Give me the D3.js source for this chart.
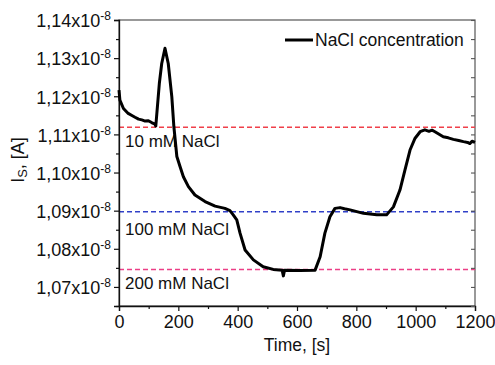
<!DOCTYPE html>
<html>
<head>
<meta charset="utf-8">
<script src="https://cdn.jsdelivr.net/npm/d3@7"></script>
<style>
  html, body { margin: 0; padding: 0; background: #fff; }
  svg { display: block; }
  text { font-family: "Liberation Sans", Arial, sans-serif; fill: #111; }
</style>
</head>
<body>
<div id="chart"></div>
<script>
// Measured sensor current over time while NaCl concentration is stepped
const timeS = [0, 3, 15, 31, 45, 54, 66, 77, 88, 99, 110, 121, 124, 136, 144, 155, 166, 178, 185, 195, 206, 217, 234, 256, 290, 324, 357, 374, 385, 397, 408, 425, 453, 486, 520, 550, 554, 558, 610, 661, 678, 694, 711, 728, 745, 760, 779, 824, 869, 902, 925, 947, 964, 981, 998, 1015, 1031, 1045, 1055, 1065, 1093, 1110, 1127, 1145, 1161, 1175, 1183, 1190, 1200];
const currentE8 = [1.1216, 1.1190, 1.1168, 1.1155, 1.1149, 1.1145, 1.1140, 1.1138, 1.1135, 1.1136, 1.1131, 1.1127, 1.1122, 1.1234, 1.1286, 1.1326, 1.1286, 1.1199, 1.1120, 1.1042, 1.1015, 1.0989, 1.0963, 1.0941, 1.0924, 1.0912, 1.0906, 1.0900, 1.0889, 1.0876, 1.0841, 1.0797, 1.0771, 1.0753, 1.0746, 1.0744, 1.0729, 1.0744, 1.0743, 1.0744, 1.0779, 1.0841, 1.0884, 1.0906, 1.0908, 1.0905, 1.0902, 1.0893, 1.0889, 1.0889, 1.0910, 1.0954, 1.1007, 1.1059, 1.1090, 1.1107, 1.1112, 1.1108, 1.1111, 1.1107, 1.1094, 1.1091, 1.1087, 1.1084, 1.1081, 1.1079, 1.1076, 1.1082, 1.1079];

// Reference levels for each concentration
const refLabels = ["10 mM NaCl", "100 mM NaCl", "200 mM NaCl"];
const refLevels = [1.1119, 1.0897, 1.0746];
const refColors = ["#f0404a", "#3040c8", "#ec3f86"];

// Axis ticks
const xTicks = [0, 200, 400, 600, 800, 1000, 1200];
const xMinorTicks = [100, 300, 500, 700, 900, 1100];
const yTicks = [1.07, 1.08, 1.09, 1.10, 1.11, 1.12, 1.13, 1.14];
const yMinorTicks = [1.065, 1.075, 1.085, 1.095, 1.105, 1.115, 1.125, 1.135];
const yTickLabels = ["1,07x10", "1,08x10", "1,09x10", "1,10x10", "1,11x10", "1,12x10", "1,13x10", "1,14x10"];

const W = 495, H = 365;
const L = 119, R = 475, T = 20, B = 306;

const svg = d3.select("#chart").append("svg").attr("width", W).attr("height", H);

const x = d3.scaleLinear().domain([0, 1200]).range([L, R]);
const y = d3.scaleLinear().domain([1.065, 1.14]).range([B, T]);

// frame
svg.append("rect").attr("x", L).attr("y", T).attr("width", R - L).attr("height", B - T)
  .attr("fill", "none").attr("stroke", "#555").attr("stroke-width", 1.2);

// reference dashed lines
refLevels.forEach((lv, i) => {
  svg.append("line").attr("x1", x(0)).attr("x2", x(1200)).attr("y1", y(lv)).attr("y2", y(lv))
    .attr("stroke", refColors[i]).attr("stroke-width", 1.5).attr("stroke-dasharray", "5,3");
});

// annotations
const annBase = [147, 235, 289];
refLabels.forEach((t, i) => {
  svg.append("text").attr("x", 125).attr("y", annBase[i]).attr("font-size", 17).text(t);
});

// bottom axis
const xAxis = svg.append("g").attr("transform", `translate(0,${B})`)
  .call(d3.axisBottom(x).tickValues(xTicks).tickSize(5).tickPadding(4).tickFormat(d3.format("d")));
xAxis.select(".domain").attr("stroke", "#111").attr("stroke-width", 1.3);
xAxis.selectAll(".tick line").attr("stroke", "#111").attr("stroke-width", 1.2);
xAxis.selectAll(".tick text").attr("font-size", 18).attr("fill", "#111")
  .attr("font-family", "Liberation Sans, Arial, sans-serif");
const xMinor = svg.append("g").attr("transform", `translate(0,${B})`)
  .call(d3.axisBottom(x).tickValues(xMinorTicks).tickSize(3).tickFormat(""));
xMinor.select(".domain").remove();
xMinor.selectAll(".tick line").attr("stroke", "#111").attr("stroke-width", 1.2);

// left axis
const yAxis = svg.append("g").attr("transform", `translate(${L},0)`)
  .call(d3.axisLeft(y).tickValues(yTicks).tickSize(5).tickPadding(3).tickFormat(""));
yAxis.select(".domain").attr("stroke", "#111").attr("stroke-width", 1.3);
yAxis.selectAll(".tick line").attr("stroke", "#111").attr("stroke-width", 1.2);
yAxis.selectAll(".tick").each(function(d, i) {
  const g = d3.select(this);
  const t = g.append("text").attr("x", -8).attr("dy", "0.38em")
    .attr("text-anchor", "end").attr("font-size", 18).attr("fill", "#111")
    .attr("font-family", "Liberation Sans, Arial, sans-serif");
  t.append("tspan").text(yTickLabels[i]);
  t.append("tspan").attr("dy", -7).attr("font-size", 12).text("-8");
});
const yMinor = svg.append("g").attr("transform", `translate(${L},0)`)
  .call(d3.axisLeft(y).tickValues(yMinorTicks).tickSize(3).tickFormat(""));
yMinor.select(".domain").remove();
yMinor.selectAll(".tick line").attr("stroke", "#111").attr("stroke-width", 1.2);

// right axis, ticks pointing inward
const yRight = svg.append("g").attr("transform", `translate(${R},0)`)
  .call(d3.axisRight(y).tickValues(yTicks.concat(yMinorTicks)).tickSize(-4).tickFormat(""));
yRight.select(".domain").remove();
yRight.selectAll(".tick line").attr("stroke", "#555").attr("stroke-width", 1.1);

// data curve
const line = d3.line().x((d, i) => x(timeS[i])).y(d => y(d)).curve(d3.curveLinear);
svg.append("path").datum(currentE8).attr("d", line)
  .attr("fill", "none").attr("stroke", "#000").attr("stroke-width", 3).attr("stroke-linejoin", "round");

// legend
svg.append("line").attr("x1", 285).attr("x2", 313).attr("y1", 40).attr("y2", 40)
  .attr("stroke", "#000").attr("stroke-width", 3);
svg.append("text").attr("x", 315).attr("y", 46).attr("font-size", 17.5).text("NaCl concentration");

// axis titles
svg.append("text").attr("x", 297).attr("y", 351).attr("text-anchor", "middle").attr("font-size", 17.5).text("Time, [s]");
const yt = svg.append("text").attr("transform", `translate(24,160) rotate(-90)`)
  .attr("text-anchor", "middle").attr("font-size", 18);
yt.append("tspan").text("I");
yt.append("tspan").attr("font-size", 13).attr("dy", 3).text("S");
yt.append("tspan").attr("dy", -3).text(", [A]");
</script>
</body>
</html>
